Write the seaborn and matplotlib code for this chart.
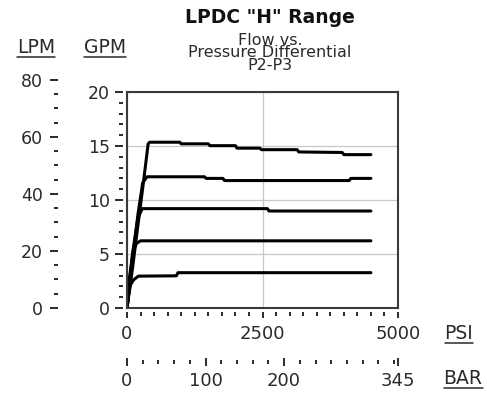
import pandas as pd
import numpy as np
import matplotlib.pyplot as plt
import seaborn as sns
from matplotlib.ticker import MultipleLocator
from matplotlib.lines import Line2D

# flow curves, PSI vs GPM (top curve first)
psi_a = [0, 100, 200, 300, 390, 420, 975, 1000, 1500, 1530, 2000, 2030, 2450, 2480, 3140, 3170, 3970, 4000, 4500]
gpm_a = [0, 3.6, 7.6, 11.5, 15.2, 15.35, 15.35, 15.2, 15.2, 15.03, 15.03, 14.8, 14.8, 14.66, 14.66, 14.45, 14.4, 14.2, 14.2]

psi_b = [0, 100, 200, 290, 370, 1430, 1460, 1770, 1800, 4100, 4130, 4500]
gpm_b = [0, 4.3, 8.6, 11.6, 12.15, 12.15, 12.0, 12.0, 11.8, 11.8, 12.0, 12.0]

psi_c = [0, 100, 200, 280, 2590, 2620, 4500]
gpm_c = [0, 5.0, 8.3, 9.2, 9.2, 8.98, 8.98]

psi_d = [0, 50, 120, 180, 250, 4500]
gpm_d = [0, 3.0, 5.4, 6.0, 6.22, 6.22]

psi_e = [0, 30, 60, 120, 210, 910, 940, 4500]
gpm_e = [0, 1.2, 2.1, 2.6, 2.95, 2.98, 3.27, 3.27]

gpm_ticks = [0, 5, 10, 15, 20]
lpm_ticks = [0, 20, 40, 60, 80]
psi_ticks = [0, 2500, 5000]
bar_ticks = [0, 100, 200, 345]

title = 'LPDC "H" Range'
subtitle = ['Flow vs.', 'Pressure Differential', 'P2-P3']

GPM_TO_LPM = 3.785
PSI_PER_BAR = 5000 / 345   # the chart puts 345 bar at 5000 psi

curves = []
for name, p, g in [('a', psi_a, gpm_a), ('b', psi_b, gpm_b), ('c', psi_c, gpm_c),
                   ('d', psi_d, gpm_d), ('e', psi_e, gpm_e)]:
    curves.append(pd.DataFrame({'psi': p, 'gpm': g, 'curve': name}))
df = pd.concat(curves, ignore_index=True)

sns.set_style('white')
plt.rcParams['font.family'] = ['DejaVu Sans']
INK = '#2a2a2a'

W, H = 487, 401
fig = plt.figure(figsize=(W / 100, H / 100), dpi=100)


def rect(l, t, r, b):
    return [l / W, 1 - b / H, (r - l) / W, (b - t) / H]


# main plot frame
ax = fig.add_axes(rect(127, 92, 398, 308))
sns.lineplot(data=df, x='psi', y='gpm', units='curve', estimator=None, sort=False,
             color='black', lw=2.2, ax=ax, legend=False)
ax.set_xlim(0, 5000)
ax.set_ylim(0, 20)
ax.set_xticks(psi_ticks)
ax.set_yticks(gpm_ticks)
ax.grid(True, color='#c8c8c8', lw=0.9)
ax.set_axisbelow(True)
ax.tick_params(length=0, labelleft=False, labelbottom=False)
ax.set_xlabel('')
ax.set_ylabel('')
for s in ax.spines.values():
    s.set_color('#3a3a3a')
    s.set_linewidth(1.5)

# tick marks sit a little away from the frame
ax2 = fig.add_axes(rect(127, 92, 398, 308))
ax2.patch.set_visible(False)
ax2.set_xlim(0, 5000)
ax2.set_ylim(0, 20)
ax2.set_xticks(psi_ticks)
ax2.set_yticks(gpm_ticks)
ax2.xaxis.set_minor_locator(MultipleLocator(250))
ax2.yaxis.set_minor_locator(MultipleLocator(1))
for k in ['left', 'bottom']:
    ax2.spines[k].set_position(('outward', 2.9))
for s in ax2.spines.values():
    s.set_visible(False)
ax2.tick_params(axis='y', which='major', left=True, length=5.8, width=1.4, pad=3.5,
                labelsize=12.5, colors=INK)
ax2.tick_params(axis='y', which='minor', left=True, length=2.9, width=1.4, colors=INK)
ax2.tick_params(axis='x', which='major', bottom=True, length=4.3, width=1.4, pad=5,
                labelsize=13, colors=INK)
ax2.tick_params(axis='x', which='minor', bottom=True, length=2.9, width=1.4, colors=INK)

# LPM scale on the far left
px_per_gpm = 216 / 20
lpm_top = 308 - 80 / GPM_TO_LPM * px_per_gpm
ax3 = fig.add_axes(rect(58, lpm_top, 60, 308))
ax3.patch.set_visible(False)
for s in ax3.spines.values():
    s.set_visible(False)
ax3.set_ylim(0, 80)
ax3.set_yticks(lpm_ticks)
ax3.yaxis.set_minor_locator(MultipleLocator(5))
ax3.set_xticks([])
ax3.tick_params(axis='y', which='major', left=True, length=5.8, width=1.4, pad=5,
                labelsize=12.5, colors=INK)
ax3.tick_params(axis='y', which='minor', left=True, length=2.9, width=1.4, colors=INK)

# BAR scale under the PSI scale
secax = ax.secondary_xaxis((308 - 362) / 216,
                           functions=(lambda p: p / PSI_PER_BAR, lambda b: b * PSI_PER_BAR))
for s in secax.spines.values():
    s.set_visible(False)
secax.set_xticks(bar_ticks)
secax.xaxis.set_minor_locator(MultipleLocator(20))
secax.tick_params(which='major', direction='inout', length=5.8, width=1.4, pad=4,
                  labelsize=13, colors=INK)
secax.tick_params(which='minor', direction='inout', length=2.9, width=1.4, colors=INK)

# titles
fig.text(270 / W, 1 - 23 / H, title, ha='center', va='baseline', fontsize=13.5,
         fontweight='bold', color='#111111')
fig.text(270 / W, 1 - 70 / H, '\n'.join(subtitle), ha='center', va='baseline',
         fontsize=11.5, linespacing=0.8, color=INK, multialignment='center')

# underlined unit labels
units = [('LPM', 36, 53), ('GPM', 105, 53), ('PSI', 459, 339), ('BAR', 463, 384)]
unit_texts = []
for txt, x, y in units:
    t = fig.text(x / W, 1 - y / H, txt, ha='center', va='baseline', fontsize=13.5, color=INK)
    unit_texts.append((t, y))

fig.canvas.draw()
r = fig.canvas.get_renderer()
for t, y in unit_texts:
    bb = t.get_window_extent(r)
    yl = 1 - (y + 4) / H
    fig.add_artist(Line2D([bb.x0 / W, bb.x1 / W], [yl, yl], transform=fig.transFigure,
                          color=INK, lw=1.1))

fig.savefig('out.png', dpi=100)
